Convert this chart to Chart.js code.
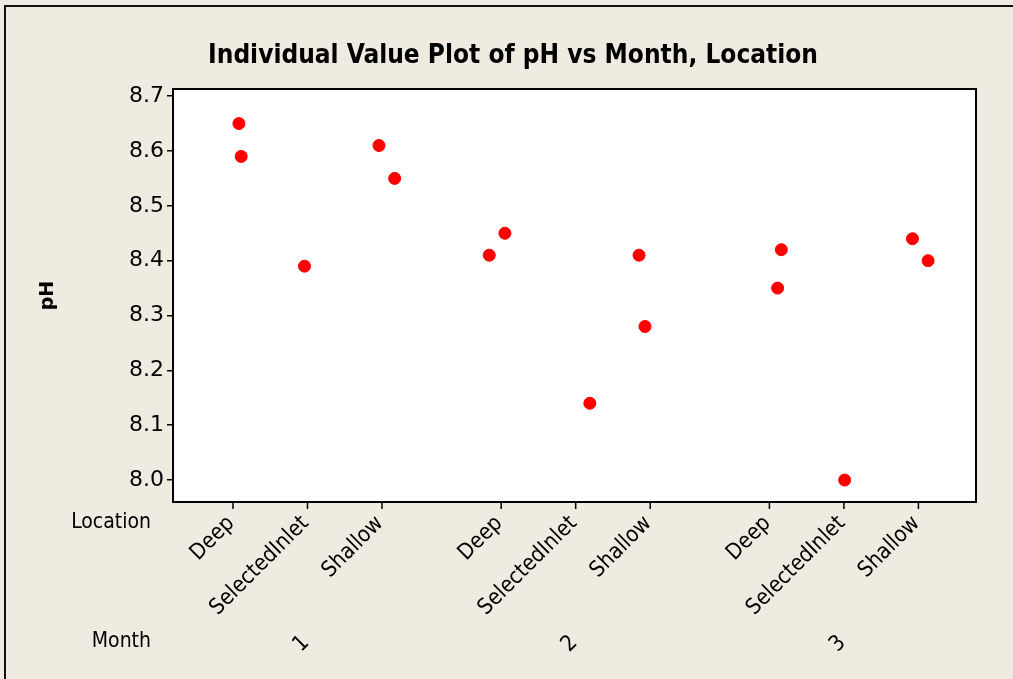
<!DOCTYPE html>
<html>
<head>
<meta charset="utf-8">
<script src="https://cdn.jsdelivr.net/npm/chart.js@4/dist/chart.umd.min.js"></script>
<style>
  html, body { margin: 0; padding: 0; background: #efebe1; }
  canvas { display: block; }
</style>
</head>
<body>
<canvas id="chart" width="1013" height="679"></canvas>
<script>
// Category labels
var locations = ['Deep', 'SelectedInlet', 'Shallow'];
var months = ['1', '2', '3'];
var yTicks = [8.0, 8.1, 8.2, 8.3, 8.4, 8.5, 8.6, 8.7];
var chartTitle = 'Individual Value Plot of pH vs Month, Location';

// One entry per observation
var pointMonth    = [1, 1, 1, 1, 1, 2, 2, 2, 2, 2, 3, 3, 3, 3, 3];
var pointLocation = [0, 0, 1, 2, 2, 0, 0, 1, 2, 2, 0, 0, 1, 2, 2];
var pointPH       = [8.65, 8.59, 8.39, 8.61, 8.55, 8.41, 8.45, 8.14, 8.41, 8.28, 8.35, 8.42, 8.00, 8.44, 8.40];
var pointJitter   = [0.08, 0.11, -0.04, -0.04, 0.17, -0.16, 0.05, 0.19, -0.15, -0.07, 0.11, 0.16, 0.01, -0.08, 0.13];

var GROUP_STEP = 3.6;   // distance between month groups, in location units
var SANS = "'DejaVu Sans', Verdana, sans-serif";
var COND = "'DejaVu Sans Condensed', 'DejaVu Sans', Tahoma, sans-serif";

function catPos(month, loc) {
  return (month - 1) * GROUP_STEP + loc;
}

var points = pointPH.map(function(v, i) {
  return { x: catPos(pointMonth[i], pointLocation[i]) + pointJitter[i], y: v };
});

var decorPlugin = {
  id: 'decor',
  beforeDraw: function(chart) {
    var ctx = chart.ctx, a = chart.chartArea;
    ctx.save();
    ctx.fillStyle = '#efebe1';
    ctx.fillRect(0, 0, chart.width, chart.height);
    // outer frame (only top and left edges are in view)
    ctx.strokeStyle = '#111';
    ctx.lineWidth = 2;
    ctx.beginPath();
    ctx.moveTo(5, chart.height);
    ctx.lineTo(5, 6);
    ctx.lineTo(chart.width, 6);
    ctx.stroke();
    ctx.fillStyle = '#ffffff';
    ctx.fillRect(a.left, a.top, a.right - a.left, a.bottom - a.top);
    ctx.restore();
  },
  afterDraw: function(chart) {
    var ctx = chart.ctx, a = chart.chartArea, xs = chart.scales.x;
    ctx.save();
    ctx.strokeStyle = '#000';
    ctx.lineWidth = 2;
    ctx.strokeRect(a.left, a.top, a.right - a.left, a.bottom - a.top);

    ctx.fillStyle = '#000';
    ctx.font = 'bold 26px ' + COND;
    ctx.textAlign = 'center';
    ctx.textBaseline = 'middle';
    ctx.fillText(chartTitle, 513, 56);

    ctx.font = '21px ' + COND;
    ctx.textAlign = 'right';
    ctx.fillText('Location', 151, 523);
    ctx.fillText('Month', 151, 642);

    ctx.font = '22px ' + COND;
    months.forEach(function(m, mi) {
      locations.forEach(function(loc, li) {
        var px = xs.getPixelForValue(catPos(mi + 1, li));
        ctx.lineWidth = 1.5;
        ctx.beginPath();
        ctx.moveTo(px, a.bottom);
        ctx.lineTo(px, a.bottom + 7);
        ctx.stroke();
        ctx.save();
        ctx.translate(px - 2, a.bottom + 18);
        ctx.rotate(-Math.PI / 4);
        ctx.textAlign = 'right';
        ctx.fillText(loc, 0, 0);
        ctx.restore();
      });
      var mx = xs.getPixelForValue(catPos(mi + 1, 1));
      ctx.save();
      ctx.translate(mx - 6, 644);
      ctx.rotate(-Math.PI / 4);
      ctx.textAlign = 'center';
      ctx.fillText(m, 0, 0);
      ctx.restore();
    });
    ctx.restore();
  }
};

new Chart(document.getElementById('chart'), {
  type: 'scatter',
  data: {
    datasets: [{
      label: 'pH',
      data: points,
      backgroundColor: '#ff0000',
      borderColor: '#ff0000',
      pointRadius: 6,
      pointHoverRadius: 6
    }]
  },
  options: {
    responsive: false,
    devicePixelRatio: 1,
    animation: false,
    layout: { padding: { left: 0, right: 37, top: 89, bottom: 0 } },
    plugins: {
      legend: { display: false },
      tooltip: { enabled: false },
      title: { display: false }
    },
    scales: {
      x: {
        type: 'linear',
        min: -0.805,
        max: 9.973,
        ticks: { display: false },
        grid: { display: false },
        border: { display: false },
        afterFit: function(scale) { scale.height = 177; }
      },
      y: {
        min: 7.96,
        max: 8.713,
        afterBuildTicks: function(scale) {
          scale.ticks = yTicks.map(function(v) { return { value: v }; });
        },
        afterFit: function(scale) { scale.width = 173; },
        ticks: {
          color: '#000',
          padding: 3,
          font: { family: SANS, size: 22 },
          callback: function(v) { return v.toFixed(1); }
        },
        grid: { drawOnChartArea: false, tickLength: 6, color: '#000', lineWidth: 1.5 },
        border: { display: false },
        title: {
          display: true,
          text: 'pH',
          color: '#000',
          font: { family: SANS, size: 19, weight: 'bold' },
          padding: { top: 37, bottom: 0 }
        }
      }
    }
  },
  plugins: [decorPlugin]
});
</script>
</body>
</html>
